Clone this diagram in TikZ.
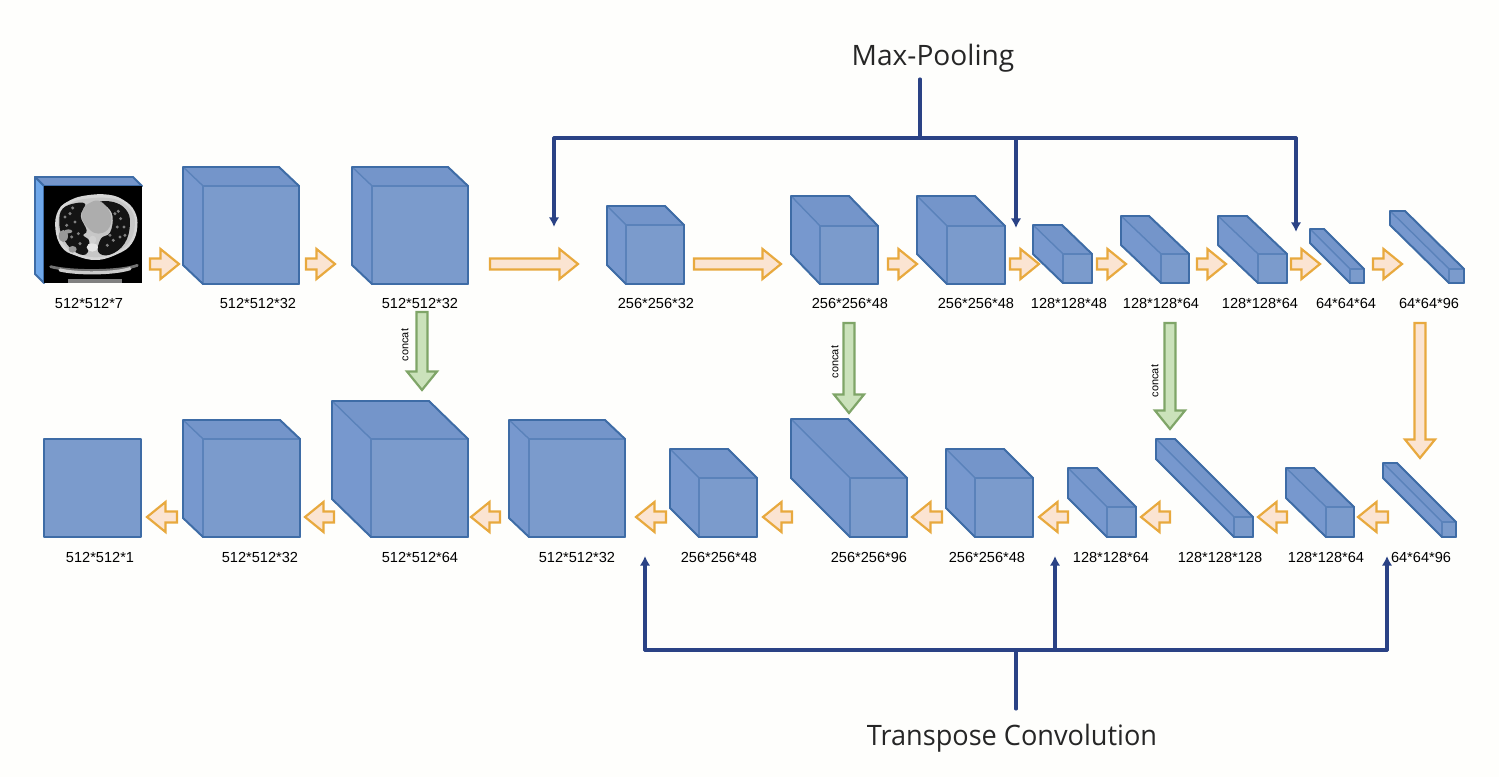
\documentclass[tikz,border=0pt]{standalone}
\usepackage{fontspec}
\setmainfont{Liberation Sans}
\newfontfamily\headfont{Open Sans}
\usetikzlibrary{calc,arrows.meta}
\definecolor{bgc}{HTML}{FEFEFC}
\definecolor{cfront}{HTML}{7B9BCC}
\definecolor{ctop}{HTML}{7495CA}
\definecolor{cside}{HTML}{7798CE}
\definecolor{cedge}{HTML}{3E6CA6}
\definecolor{cinner}{HTML}{5A82BA}
\definecolor{ctside}{HTML}{6FA8EA}
\definecolor{navy}{HTML}{2A4285}
\definecolor{ofill}{HTML}{FBE4D2}
\definecolor{oedge}{HTML}{E8A93E}
\definecolor{gfill}{HTML}{CBE2BB}
\definecolor{gedge}{HTML}{7FA568}
\def\pxl{0.569pt}
\tikzset{
  x=0.02cm,y=-0.02cm,
  faceedge/.style={draw=cinner,line width=0.7pt,line join=round},
  outeredge/.style={draw=cedge,line width=1.1pt,line join=round},
  orangearrow/.style={fill=ofill,draw=oedge,line width=1.25pt,line join=miter},
  greenarrow/.style={fill=gfill,draw=gedge,line width=1.25pt,line join=miter},
  dimlabel/.style={font=\fontsize{8.3}{10}\selectfont,inner sep=0pt,text=black},
  concatlabel/.style={font=\fontsize{6.2}{8}\selectfont,inner sep=0pt,rotate=90,text=black},
  headlabel/.style={font=\headfont\fontsize{16}{19}\selectfont,inner sep=0pt,text=black!85},
  bus/.style={draw=navy,line width=1.8pt,line cap=round,line join=round},
  busarrow/.style={bus,-{Latex[length=5.5pt,width=6pt]}},
}
% name, left, top, front-left, front-top, right, bottom
\newcommand\cuboid[7]{%
  \coordinate (#1) at ({(#2+#6)/2},{(#3+#7)/2});
  \draw[faceedge,fill=ctop] (#2,#3) -- ({#6-(#4-#2)},#3) -- (#6,#5) -- (#4,#5) -- cycle;
  \draw[faceedge,fill=cside] (#2,#3) -- (#4,#5) -- (#4,#7) -- (#2,{#7-(#5-#3)}) -- cycle;
  \draw[faceedge,fill=cfront] (#4,#5) rectangle (#6,#7);
  \draw[outeredge] (#2,#3) -- ({#6-(#4-#2)},#3) -- (#6,#5) -- (#6,#7) -- (#4,#7) -- (#2,{#7-(#5-#3)}) -- cycle;
}
% style, name, start, end
\newcommand\blockarrow[4]{%
  \coordinate (#2s) at #3; \coordinate (#2e) at #4;
  \coordinate (#2h) at ($(#2e)!18.5*\pxl!(#2s)$);
  \draw[#1] ($(#2s)!5.5*\pxl!90:(#2e)$) -- ($(#2h)!5.5*\pxl!90:(#2e)$) -- ($(#2h)!15*\pxl!90:(#2e)$)
    -- (#2e) -- ($(#2h)!15*\pxl!-90:(#2e)$) -- ($(#2h)!5.5*\pxl!-90:(#2e)$) -- ($(#2s)!5.5*\pxl!-90:(#2e)$) -- cycle;
}
\begin{document}
\begin{tikzpicture}
\useasboundingbox (0,0) rectangle (1499,777);
\fill[bgc] (0,0) rectangle (1499,777);

% CT input slab
\coordinate (ct) at (89,230);
\draw[outeredge,fill=ctop] (35,177) -- (133,177) -- (142,186) -- (44,186) -- cycle;
\draw[outeredge,fill=ctside] (35,177) -- (44,186) -- (44,283) -- (35,274) -- cycle;
\fill[black] (44,186) rectangle (142,283);
\begin{scope}[shift={(30,172)},x=0.006667cm,y=-0.006667cm]
  \clip (42,42) rectangle (336,333);
  \fill[black!16] plot[smooth cycle,tension=0.7] coordinates {(76,170)(85,115)(120,85)(170,70)(235,68)(282,85)(314,118)(322,165)(305,215)(265,245)(200,264)(135,250)(95,225)};
  \fill[black!22] plot[smooth cycle,tension=0.7] coordinates {(84,170)(92,120)(125,92)(170,80)(235,78)(278,92)(308,122)(314,165)(298,210)(262,238)(200,256)(138,242)(102,218)};
  \fill[black!92] plot[smooth cycle,tension=0.7] coordinates {(88,150)(98,110)(140,93)(166,98)(152,132)(170,175)(160,190)(178,208)(168,247)(130,236)(98,195)};
  \fill[black!92] plot[smooth cycle,tension=0.7] coordinates {(205,90)(250,90)(288,113)(300,155)(284,214)(240,248)(205,240)(213,200)(240,182)(248,135)(232,105)};
  \fill[black!32] plot[smooth cycle,tension=0.7] coordinates {(175,95)(205,86)(232,108)(244,140)(234,172)(205,185)(178,172)(156,140)(160,110)};
  \fill[black!40] (100,192) ellipse (14 and 18) (128,232) ellipse (12 and 10) (115,178) ellipse (12 and 6);
  \foreach \sx/\sy in {120/125,135/150,110/160,145/185,125/195,150/215,255/125,272/140,262/165,282/165,250/205,270/195,232/220,128/108,265/118,240/190,105/135,285/190}
    \fill[black!50] (\sx,\sy) circle (5);
  \fill[black!10] (187,226) ellipse (17 and 13);
  \fill[black!18] (188,203) ellipse (11 and 12);
  \draw[black!55,line width=1.6pt,line cap=round] (62,284) .. controls (120,300) and (270,300) .. (322,280);
  \draw[black!20,line width=1.8pt,line cap=round] (90,294) .. controls (140,306) and (250,306) .. (300,290);
  \draw[black!50,line width=2pt] (115,327) -- (275,327);
\end{scope}

% upper row
\cuboid{ca}{183}{167}{203}{186}{299}{284}
\cuboid{cb}{352}{167}{372}{186}{468}{284}
\cuboid{cc}{607}{206}{626}{225}{684}{284}
\cuboid{cd}{791}{196}{820}{226}{878}{284}
\cuboid{ce}{917}{196}{947}{226}{1005}{284}
\cuboid{cf}{1033}{225}{1063}{254}{1092}{283}
\cuboid{cg}{1121}{216}{1161}{254}{1189}{283}
\cuboid{ch}{1218}{216}{1258}{254}{1287}{283}
\cuboid{ci}{1310}{229}{1350}{269}{1364}{283}
\cuboid{cj}{1390}{211}{1449}{269}{1464}{283}

% lower row
\coordinate (da) at (92,488);
\draw[outeredge,fill=cfront] (44,439) rectangle (141,537);
\cuboid{db}{183}{420}{203}{439}{300}{537}
\cuboid{dc}{332}{401}{371}{439}{468}{537}
\cuboid{dd}{509}{420}{529}{439}{625}{537}
\cuboid{de}{670}{449}{699}{478}{757}{537}
\cuboid{df}{791}{419}{850}{478}{907}{537}
\cuboid{dg}{946}{449}{975}{478}{1033}{537}
\cuboid{dh}{1068}{468}{1107}{507}{1136}{537}
\cuboid{di}{1156}{439}{1234}{517}{1253}{537}
\cuboid{dj}{1286}{468}{1326}{507}{1354}{537}
\cuboid{dk}{1383}{463}{1442}{522}{1456}{537}

% forward arrows
\blockarrow{orangearrow}{fa}{(150,264)}{(179,264)}
\blockarrow{orangearrow}{fb}{(306,264)}{(335,264)}
\blockarrow{orangearrow}{fc}{(490,264)}{(578,264)}
\blockarrow{orangearrow}{fd}{(694,264)}{(781,264)}
\blockarrow{orangearrow}{fe}{(888,264)}{(917,264)}
\blockarrow{orangearrow}{ff}{(1010,264)}{(1039,264)}
\blockarrow{orangearrow}{fg}{(1097,264)}{(1126,264)}
\blockarrow{orangearrow}{fh}{(1197,264)}{(1226,264)}
\blockarrow{orangearrow}{fi}{(1291,264)}{(1320,264)}
\blockarrow{orangearrow}{fj}{(1373,264)}{(1402,264)}
% backward arrows
\blockarrow{orangearrow}{ba}{(1388,517)}{(1358,517)}
\blockarrow{orangearrow}{bb}{(1287,517)}{(1258,517)}
\blockarrow{orangearrow}{bc}{(1170,517)}{(1141,517)}
\blockarrow{orangearrow}{bd}{(1068,517)}{(1039,517)}
\blockarrow{orangearrow}{be}{(942,517)}{(912,517)}
\blockarrow{orangearrow}{bf}{(792,517)}{(763,517)}
\blockarrow{orangearrow}{bg}{(666,517)}{(636,517)}
\blockarrow{orangearrow}{bh}{(500,517)}{(471,517)}
\blockarrow{orangearrow}{bi}{(334,517)}{(305,517)}
\blockarrow{orangearrow}{bj}{(177,517)}{(147,517)}
% vertical arrows
\blockarrow{greenarrow}{ga}{(422,312)}{(422,390)}
\blockarrow{greenarrow}{gb}{(849,323)}{(849,413)}
\blockarrow{greenarrow}{gc}{(1170,323)}{(1170,429)}
\blockarrow{orangearrow}{oa}{(1420,323)}{(1420,458)}

% concat labels
\node[concatlabel] (ka) at (405,345) {concat};
\node[concatlabel] (kb) at (835,362) {concat};
\node[concatlabel] (kc) at (1155,381) {concat};

% dimension labels
\node[dimlabel] (la) at (89,303) {512*512*7};
\node[dimlabel] (lb) at (258,303) {512*512*32};
\node[dimlabel] (lc) at (420,303) {512*512*32};
\node[dimlabel] (ld) at (656,303) {256*256*32};
\node[dimlabel] (le) at (850,303) {256*256*48};
\node[dimlabel] (lf) at (976,303) {256*256*48};
\node[dimlabel] (lg) at (1069,303) {128*128*48};
\node[dimlabel] (lh) at (1161,303) {128*128*64};
\node[dimlabel] (li) at (1260,303) {128*128*64};
\node[dimlabel] (lj) at (1346,303) {64*64*64};
\node[dimlabel] (lk) at (1429,303) {64*64*96};
\node[dimlabel] (ma) at (100,557) {512*512*1};
\node[dimlabel] (mb) at (260,557) {512*512*32};
\node[dimlabel] (mc) at (420,557) {512*512*64};
\node[dimlabel] (md) at (577,557) {512*512*32};
\node[dimlabel] (me) at (719,557) {256*256*48};
\node[dimlabel] (mf) at (869,557) {256*256*96};
\node[dimlabel] (mg) at (987,557) {256*256*48};
\node[dimlabel] (mh) at (1111,557) {128*128*64};
\node[dimlabel] (mi) at (1220,557) {128*128*128};
\node[dimlabel] (mj) at (1326,557) {128*128*64};
\node[dimlabel] (mk) at (1421,557) {64*64*96};

% Max-Pooling bus
\node[headlabel] (mp) at (933,58) {Max-Pooling};
\coordinate (mpa) at (920,79);
\coordinate (mpb) at (920,138);
\coordinate (mpl) at (554,138);
\coordinate (mpm) at (1016,138);
\coordinate (mpr) at (1296,138);
\coordinate (mpta) at (554,227);
\coordinate (mptb) at (1016,228);
\coordinate (mptc) at (1296,232);
\draw[bus] (mpa) -- (mpb);
\draw[bus] (mpl) -- (mpr);
\draw[busarrow] (mpl) -- (mpta);
\draw[busarrow] (mpm) -- (mptb);
\draw[busarrow] (mpr) -- (mptc);

% Transpose Convolution bus
\node[headlabel,xscale=0.965] (tc) at (1012,738) {Transpose Convolution};
\coordinate (tca) at (1016,709);
\coordinate (tcb) at (1016,650);
\coordinate (tcl) at (645,650);
\coordinate (tcm) at (1055,650);
\coordinate (tcr) at (1387,650);
\coordinate (tcta) at (645,556);
\coordinate (tctb) at (1055,556);
\coordinate (tctc) at (1387,556);
\draw[bus] (tca) -- (tcb);
\draw[bus] (tcl) -- (tcr);
\draw[busarrow] (tcl) -- (tcta);
\draw[busarrow] (tcm) -- (tctb);
\draw[busarrow] (tcr) -- (tctc);
\end{tikzpicture}
\end{document}
